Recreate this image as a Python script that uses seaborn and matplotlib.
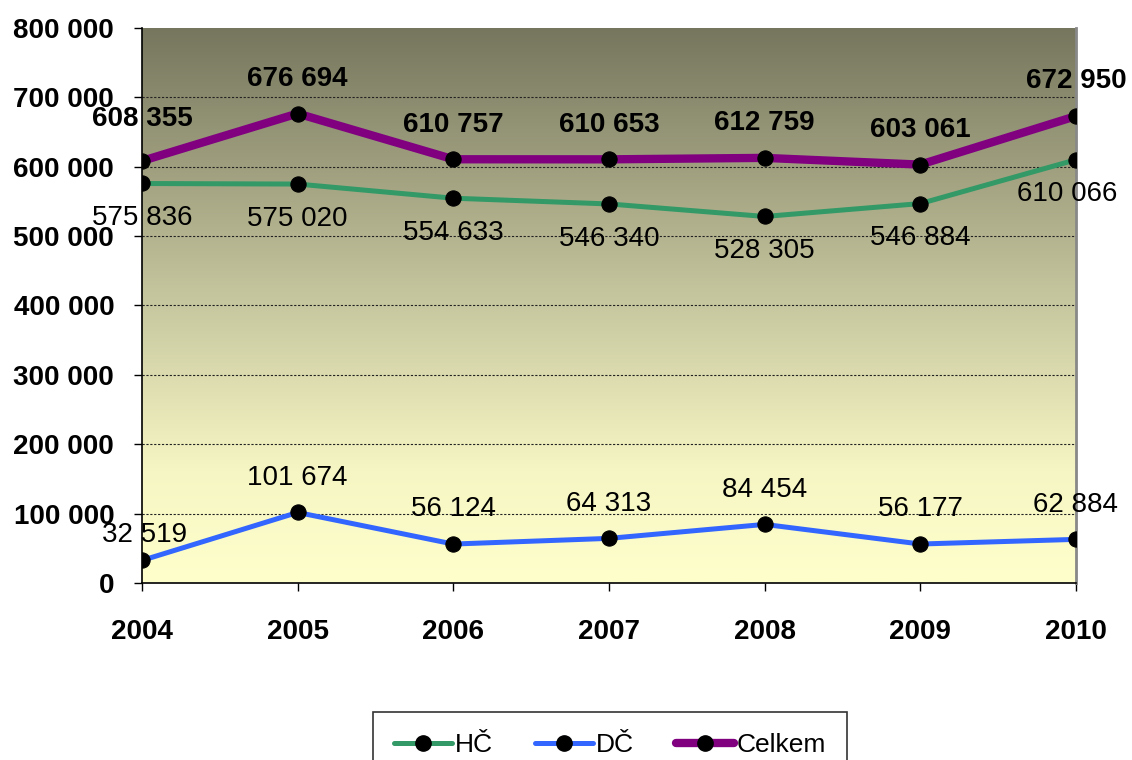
import numpy as np
import pandas as pd
import seaborn as sns
import matplotlib.pyplot as plt
from matplotlib.colors import LinearSegmentedColormap
from matplotlib.lines import Line2D

years = [2004, 2005, 2006, 2007, 2008, 2009, 2010]
hc = [575836, 575020, 554633, 546340, 528305, 546884, 610066]
dc = [32519, 101674, 56124, 64313, 84454, 56177, 62884]
celkem = [608355, 676694, 610757, 610653, 612759, 603061, 672950]
series_names = ["HČ", "DČ", "Celkem"]
y_ticks = [0, 100000, 200000, 300000, 400000, 500000, 600000, 700000, 800000]

sns.set_theme(style="white")
plt.rcParams['font.family'] = ['Liberation Sans', 'DejaVu Sans']
plt.rcParams['text.color'] = 'black'
plt.rcParams['xtick.labelcolor'] = 'black'
plt.rcParams['ytick.labelcolor'] = 'black'

df = pd.DataFrame({"year": years * 3,
                   "value": hc + dc + celkem,
                   "series": [s for s in series_names for _ in years]})

colors = {"HČ": "#339966", "DČ": "#3366FF", "Celkem": "#800080"}
widths = {"HČ": 3.6, "DČ": 3.6, "Celkem": 6.0}

fig = plt.figure(figsize=(11.32, 7.6), dpi=100)
ax = fig.add_axes([0.1254, 0.2329, 0.8251, 0.7303])

# gradient background: dark at top, pale yellow at bottom
cmap = LinearSegmentedColormap.from_list(
    "bg", [(0.0, (118/255, 118/255, 94/255)),
           (0.5, (200/255, 200/255, 160/255)),
           (0.8, (246/255, 246/255, 196/255)),
           (1.0, (255/255, 255/255, 204/255))])
grad = np.linspace(1, 0, 256).reshape(-1, 1)
ax.imshow(grad, extent=[years[0], years[-1], 0, 800000], origin="lower",
          aspect='auto', cmap=cmap, vmin=0, vmax=1, zorder=0)

for y in y_ticks[1:-1]:
    ax.axhline(y, color="#222222", lw=0.8, ls=(0, (2, 1.5)), zorder=1)

for name in series_names:
    sub = df[df["series"] == name]
    sns.lineplot(data=sub, x="year", y="value", ax=ax, color=colors[name],
                 lw=widths[name], marker="o", markersize=11,
                 markerfacecolor="black", markeredgecolor="black",
                 zorder=3, legend=False)

# data labels
def fmt(v):
    return f"{v:,}".replace(",", " ")

for i, (x, v) in enumerate(zip(years, celkem)):
    dy = 30 if i == 0 else 25
    ax.annotate(fmt(v), (x, v), xytext=(0, dy), textcoords="offset points",
                ha="center", va="center", fontsize=20, fontweight="bold",
                color="black", zorder=4, annotation_clip=False)
for i, (x, v) in enumerate(zip(years, hc)):
    dx = -6 if i == len(years) - 1 else 0
    ax.annotate(fmt(v), (x, v), xytext=(dx, -25), textcoords="offset points",
                ha="center", va="center", fontsize=20, color="black",
                zorder=4, annotation_clip=False)
for i, (x, v) in enumerate(zip(years, dc)):
    off = (2, 18) if i == 0 else (0, 25)
    ax.annotate(fmt(v), (x, v), xytext=off, textcoords="offset points",
                ha="center", va="center", fontsize=20, color="black",
                zorder=4, annotation_clip=False)

ax.set_xlim(years[0], years[-1])
ax.set_ylim(0, 800000)
ax.set_xticks(years)
ax.set_xticklabels([str(y) for y in years], fontsize=20, fontweight="bold")
ax.set_yticks(y_ticks)
ax.set_yticklabels([fmt(y) for y in y_ticks], fontsize=20, fontweight="bold")
ax.tick_params(axis="both", direction="out", length=6, width=1, color="black",
               labelcolor="black", left=True, bottom=True)
ax.tick_params(axis="x", pad=20)
ax.tick_params(axis="y", pad=14)
ax.set_xlabel("")
ax.set_ylabel("")
ax.grid(False)
for side in ["left", "bottom"]:
    ax.spines[side].set_color("black")
    ax.spines[side].set_linewidth(1.2)
ax.spines["right"].set_color("#888888")
ax.spines["right"].set_linewidth(2)
ax.spines["top"].set_visible(False)

handles = [Line2D([0], [0], color=colors[n], lw=widths[n], marker="o",
                  markersize=11, markerfacecolor="black",
                  markeredgecolor="black") for n in series_names]
leg = fig.legend(handles, series_names, loc="upper center",
                 bbox_to_anchor=(0.539, 0.063), ncol=3, fontsize=19,
                 frameon=True, fancybox=False, edgecolor="black",
                 handlelength=2.2, handletextpad=0.1, columnspacing=1.6,
                 borderpad=0.8, borderaxespad=0, labelcolor="black")
leg.get_frame().set_linewidth(1.2)

fig.savefig("out.png", dpi=100)
